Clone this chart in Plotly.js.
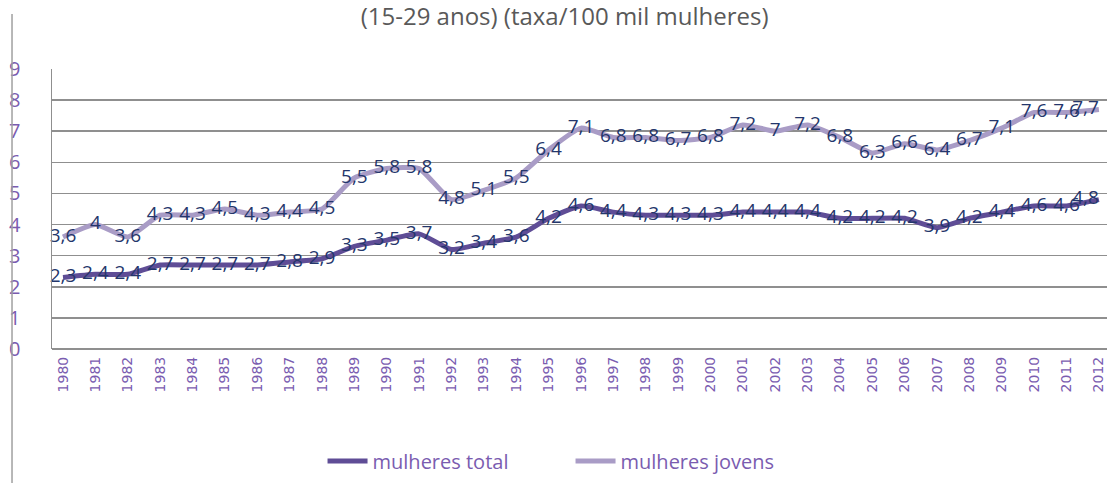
<!DOCTYPE html>
<html>
<head>
<meta charset="utf-8">
<script src="https://cdn.plot.ly/plotly-3.0.1.min.js"></script>
<style>html,body{margin:0;padding:0;background:#fff;}#chart{width:1107px;height:483px;}</style>
</head>
<body>
<div id="chart"></div>
<script>
var years = ["1980","1981","1982","1983","1984","1985","1986","1987","1988","1989","1990","1991","1992","1993","1994","1995","1996","1997","1998","1999","2000","2001","2002","2003","2004","2005","2006","2007","2008","2009","2010","2011","2012"];
var mulheresTotal = [2.3,2.4,2.4,2.7,2.7,2.7,2.7,2.8,2.9,3.3,3.5,3.7,3.2,3.4,3.6,4.2,4.6,4.4,4.3,4.3,4.3,4.4,4.4,4.4,4.2,4.2,4.2,3.9,4.2,4.4,4.6,4.6,4.8];
var mulheresJovens = [3.6,4,3.6,4.3,4.3,4.5,4.3,4.4,4.5,5.5,5.8,5.8,4.8,5.1,5.5,6.4,7.1,6.8,6.8,6.7,6.8,7.2,7,7.2,6.8,6.3,6.6,6.4,6.7,7.1,7.6,7.6,7.7];
var yTicks = [0,1,2,3,4,5,6,7,8,9];
var titleText = "(15-29 anos) (taxa/100 mil mulheres)";

function lbl(a){ return a.map(function(v){ return String(v).replace('.', ','); }); }
function pos(a){ return a.map(function(v, i){ return i === a.length - 1 ? "middle left" : "middle center"; }); }

var labelFont = {family: "Open Sans, sans-serif", size: 19, color: "#24366b"};

var traces = [
  {
    x: years, y: mulheresTotal, name: "mulheres total", type: "scatter", mode: "lines+text",
    line: {color: "#5f4d96", width: 5, shape: "spline", smoothing: 0.5},
    text: lbl(mulheresTotal), textposition: pos(mulheresTotal), textfont: labelFont,
    hoverinfo: "skip", cliponaxis: false
  },
  {
    x: years, y: mulheresJovens, name: "mulheres jovens", type: "scatter", mode: "lines+text",
    line: {color: "#a99cc6", width: 5, shape: "spline", smoothing: 0.5},
    text: lbl(mulheresJovens), textposition: pos(mulheresJovens), textfont: labelFont,
    hoverinfo: "skip", cliponaxis: false
  }
];

var layout = {
  width: 1107, height: 483,
  margin: {l: 52, r: 0, t: 69, b: 134},
  paper_bgcolor: "#ffffff", plot_bgcolor: "#ffffff",
  showlegend: true,
  title: {
    text: titleText, x: 0.51, xanchor: "center", y: 0.965, yanchor: "middle",
    font: {family: "Open Sans, sans-serif", size: 24, color: "#595959"}
  },
  xaxis: {
    type: "category", range: [-0.34, 32.25],
    tickangle: -90, ticks: "", showgrid: false, zeroline: false, showline: false,
    ticklabelstandoff: 4,
    tickfont: {family: "DejaVu Sans, sans-serif", size: 14, color: "#7a5cb0"},
    fixedrange: true
  },
  yaxis: {
    range: [0, 9], tickvals: yTicks, ticktext: yTicks.map(String),
    ticks: "", showgrid: true, gridcolor: "#8f8f8f", gridwidth: 1.5,
    showline: true, linecolor: "#8f8f8f", linewidth: 1.5,
    zeroline: true, zerolinecolor: "#8f8f8f", zerolinewidth: 1.5,
    ticklabelstandoff: 26,
    tickfont: {family: "Open Sans, sans-serif", size: 20, color: "#7a5cb0"},
    fixedrange: true
  },
  legend: {
    orientation: "h", x: 0.4915, xanchor: "center", y: -0.4, yanchor: "middle",
    font: {family: "Open Sans, sans-serif", size: 20, color: "#7a5cb0"},
    itemwidth: 40, tracegroupgap: 0, entrywidth: 193, entrywidthmode: "pixels"
  },
  shapes: [
    {type: "line", xref: "paper", yref: "paper", x0: -0.0379, x1: -0.0379, y0: 1.196, y1: -0.48,
     line: {color: "#a0a0a0", width: 1.5}}
  ]
};

Plotly.newPlot("chart", traces, layout, {displayModeBar: false, staticPlot: true});
</script>
</body>
</html>
